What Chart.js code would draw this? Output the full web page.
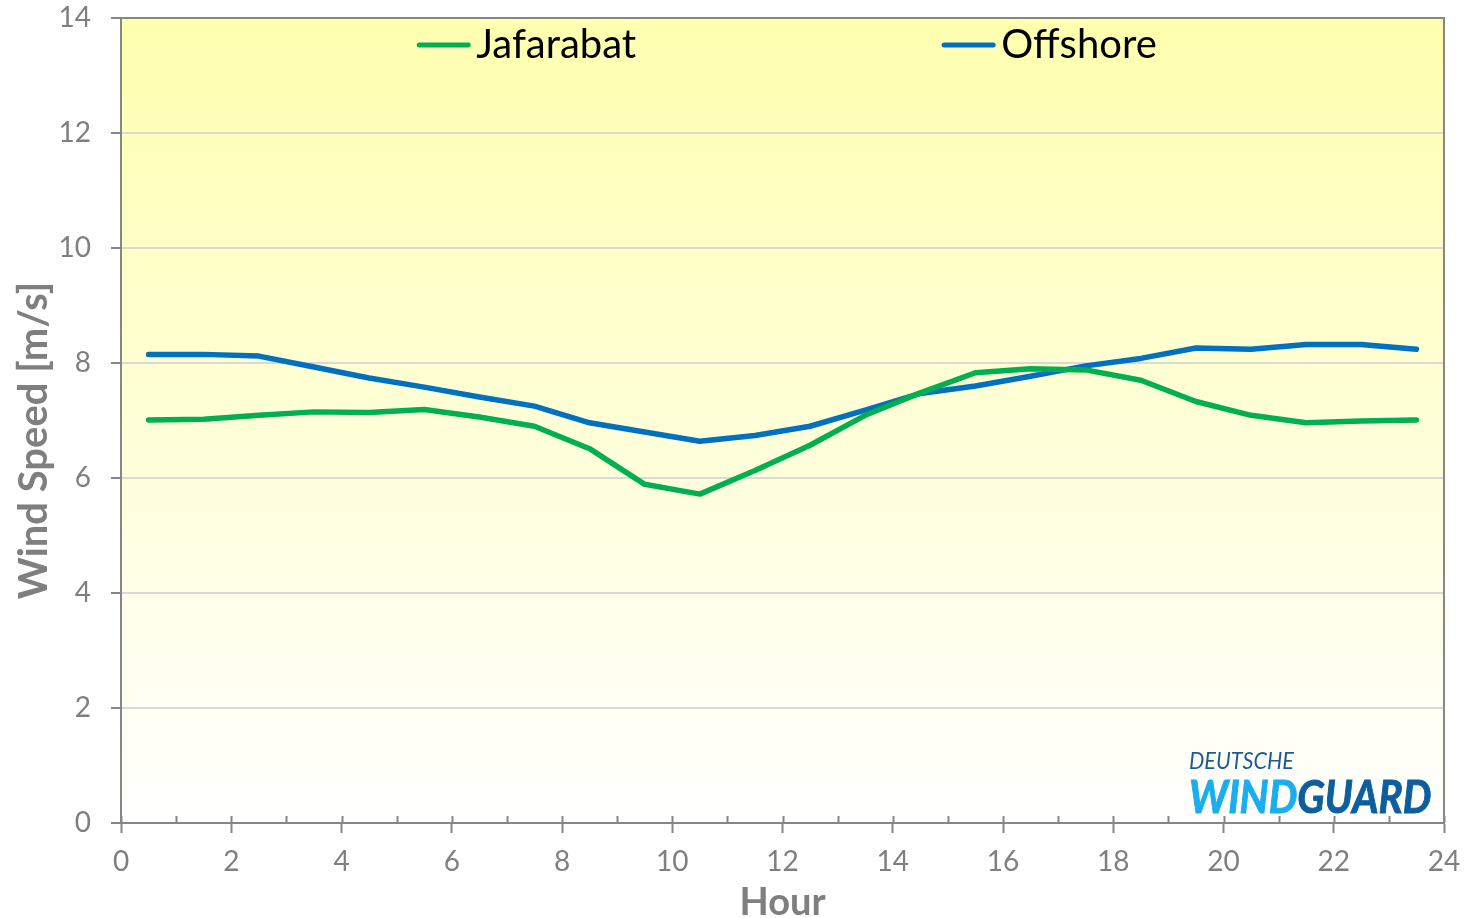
<!DOCTYPE html>
<html>
<head>
<meta charset="utf-8">
<script src="https://cdn.jsdelivr.net/npm/chart.js@4.4.1/dist/chart.umd.min.js"></script>
<style>
  html, body { margin: 0; padding: 0; background: #fff; }
  #wrap { position: relative; width: 1470px; height: 918px; }
  #logo { position: absolute; left: 1189px; top: 747px; font-family: Lato, sans-serif; font-style: italic; }
  #logo .de { font-size: 24px; color: #1d5b98; transform: scaleX(0.9); transform-origin: left; line-height: 26px; }
  #logo .wg { font-size: 46px; font-weight: 700; transform: scaleX(0.88); transform-origin: left; line-height: 46px; white-space: nowrap; -webkit-text-stroke: 1px; }
  #logo .wind { color: #19aeef; -webkit-text-stroke-color: #19aeef; }
  #logo .guard { color: #0d5e9e; -webkit-text-stroke-color: #0d5e9e; }
</style>
</head>
<body>
<div id="wrap">
  <canvas id="chart"></canvas>
  <div id="logo">
    <div class="de">DEUTSCHE</div>
    <div class="wg"><span class="wind">WIND</span><span class="guard">GUARD</span></div>
  </div>
</div>
<script>
const hours = [0.5, 1.5, 2.5, 3.5, 4.5, 5.5, 6.5, 7.5, 8.5, 9.5, 10.5, 11.5,
  12.5, 13.5, 14.5, 15.5, 16.5, 17.5, 18.5, 19.5, 20.5, 21.5, 22.5, 23.5];

const jafarabat = [7.01, 7.02, 7.09, 7.15, 7.14, 7.19, 7.06, 6.90, 6.51, 5.89, 5.72, 6.13,
  6.57, 7.09, 7.48, 7.83, 7.90, 7.88, 7.70, 7.33, 7.09, 6.96, 6.99, 7.01];

const offshore = [8.15, 8.15, 8.12, 7.93, 7.74, 7.58, 7.41, 7.25, 6.96, 6.80, 6.64, 6.74,
  6.90, 7.18, 7.47, 7.60, 7.77, 7.95, 8.08, 8.26, 8.24, 8.32, 8.32, 8.24];

const seriesNames = ["Jafarabat", "Offshore"];
const seriesColors = ["#00b050", "#0070c0"];
const yTitle = "Wind Speed [m/s]";

const axisGray = "#868686";
const labelGray = "#7f7f7f";

// fondo amarillo degradado + borde del área de trazado
const plotArea = {
  id: "plotArea",
  beforeDraw(chart) {
    const { ctx, chartArea: a } = chart;
    const g = ctx.createLinearGradient(0, a.top, 0, a.bottom);
    g.addColorStop(0, "#ffffb0");
    g.addColorStop(1, "#ffffff");
    ctx.save();
    ctx.fillStyle = g;
    ctx.fillRect(a.left, a.top, a.right - a.left, a.bottom - a.top);
    ctx.restore();
  },
  afterDraw(chart) {
    const { ctx, chartArea: a, scales } = chart;
    ctx.save();
    ctx.strokeStyle = axisGray;
    ctx.lineWidth = 2;
    ctx.beginPath();
    ctx.moveTo(a.left, a.top);
    ctx.lineTo(a.right, a.top);
    ctx.lineTo(a.right, a.bottom);
    ctx.stroke();
    // ticks hacia dentro en cada hora
    ctx.beginPath();
    for (let h = 0; h <= 24; h++) {
      const x = Math.round(scales.x.getPixelForValue(h)) + 0.5;
      ctx.moveTo(x, a.bottom);
      ctx.lineTo(x, a.bottom - 7);
    }
    ctx.stroke();
    // título del eje Y (un poco por debajo del centro, como en Excel)
    ctx.translate(34, (a.top + a.bottom) / 2 + 20);
    ctx.rotate(-Math.PI / 2);
    ctx.font = "bold 40px Lato";
    ctx.fillStyle = labelGray;
    ctx.textAlign = "center";
    ctx.textBaseline = "middle";
    ctx.fillText(yTitle, 0, 0);
    ctx.restore();
  },
};

// leyenda dentro del área, centrada arriba
const topLegend = {
  id: "topLegend",
  afterDatasetsDraw(chart) {
    const { ctx, chartArea: a } = chart;
    const sets = chart.data.datasets;
    const lineLen = 55, gap = 5, itemGap = 305;
    ctx.save();
    ctx.font = "40px Lato";
    const widths = sets.map((d) => ctx.measureText(d.label).width);
    const total = widths.reduce((s, w) => s + lineLen + gap + w, 0) + itemGap * (sets.length - 1);
    let x = (a.left + a.right) / 2 + 4 - total / 2;
    const y = a.top + 27;
    sets.forEach((d, i) => {
      ctx.strokeStyle = d.borderColor;
      ctx.lineWidth = 5;
      ctx.lineCap = "round";
      ctx.beginPath();
      ctx.moveTo(x + 3, y);
      ctx.lineTo(x + lineLen - 3, y);
      ctx.stroke();
      ctx.fillStyle = "#000";
      ctx.textBaseline = "middle";
      ctx.fillText(d.label, x + lineLen + gap, y);
      x += lineLen + gap + widths[i] + itemGap;
    });
    ctx.restore();
  },
};

const datasets = [jafarabat, offshore].map((values, i) => ({
  label: seriesNames[i],
  data: hours.map((h, j) => ({ x: h, y: values[j] })),
  borderColor: seriesColors[i],
  backgroundColor: seriesColors[i],
  borderWidth: 5.5,
  borderCapStyle: "round",
  borderJoinStyle: "round",
  pointRadius: 0,
  tension: 0,
}));

new Chart(document.querySelector("#chart"), {
  type: "line",
  data: { datasets },
  plugins: [plotArea, topLegend],
  options: {
    responsive: true,
    maintainAspectRatio: false,
    animation: false,
    layout: { padding: { top: 18, right: 26, left: 0, bottom: 0 } },
    plugins: {
      legend: { display: false },
      tooltip: { enabled: false },
    },
    scales: {
      x: {
        type: "linear",
        min: 0,
        max: 24,
        afterFit: (scale) => {
          scale.height = 95;
          scale.paddingLeft = 0;
          scale.paddingRight = 0;
        },
        ticks: {
          stepSize: 2,
          autoSkip: false,
          maxRotation: 0,
          padding: 12,
          color: labelGray,
          font: { family: "Lato", size: 28 },
        },
        grid: { drawOnChartArea: false, tickLength: 10, tickColor: axisGray, tickWidth: 2 },
        border: { color: axisGray, width: 2 },
        title: {
          display: true,
          text: "Hour",
          color: labelGray,
          font: { family: "Lato", size: 38, weight: "bold", lineHeight: 0.8 },
          padding: 0,
        },
      },
      y: {
        min: 0,
        max: 14,
        afterFit: (scale) => {
          scale.width = 121;
          scale.paddingTop = 0;
          scale.paddingBottom = 0;
        },
        ticks: {
          stepSize: 2,
          padding: 20,
          color: labelGray,
          font: { family: "Lato", size: 28 },
        },
        grid: { color: "#d9d9d9", lineWidth: 2, tickLength: 10, tickColor: axisGray, tickWidth: 2 },
        border: { color: axisGray, width: 2 },
      },
    },
  },
});
</script>
</body>
</html>
